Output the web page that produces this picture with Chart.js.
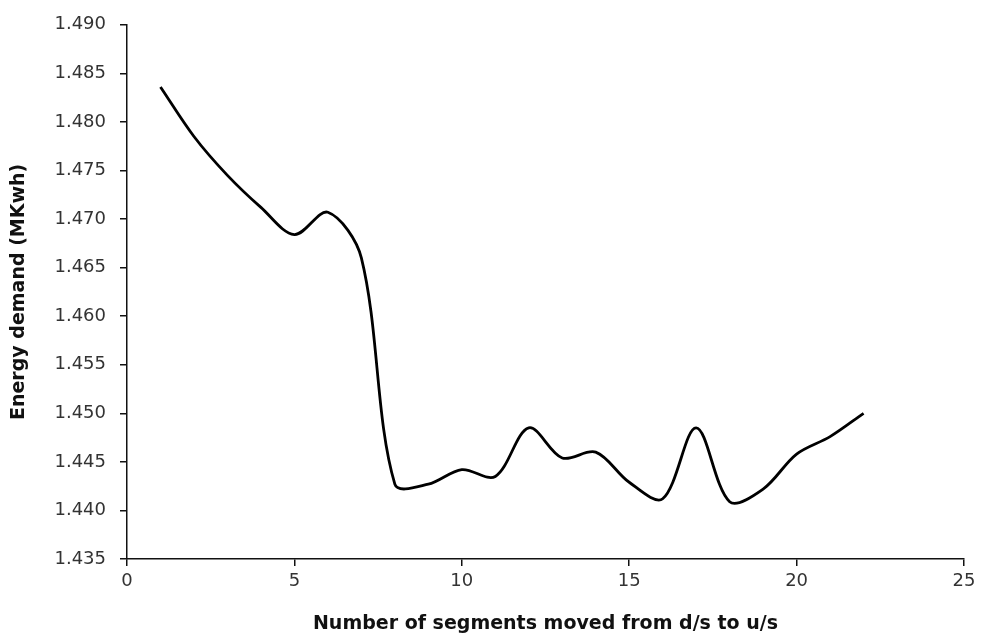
<!DOCTYPE html>
<html>
<head>
<meta charset="utf-8">
<script src="https://cdn.jsdelivr.net/npm/chart.js@4"></script>
<style>
  html, body { margin: 0; padding: 0; background: #fff; }
  #wrap { width: 982px; height: 644px; }
</style>
</head>
<body>
<div id="wrap"><canvas id="energyChart" width="982" height="644"></canvas></div>
<script>
// Segments moved and energy demand
const segments = [1, 2, 3, 4, 5, 6, 7, 8, 9, 10, 11, 12, 13, 14, 15, 16, 17, 18, 19, 20, 21, 22];
const energy = [1.4836, 1.4785, 1.4745, 1.4712, 1.4684, 1.4707, 1.4660, 1.4427, 1.4427, 1.4442, 1.4435,
  1.4485, 1.4454, 1.4460, 1.4429, 1.4412, 1.4485, 1.4409, 1.4422, 1.4458, 1.4476, 1.4500];
const xTicks = [0, 5, 10, 15, 20, 25];
const yMin = 1.435, yMax = 1.490, yStep = 0.005;

const points = segments.map((s, i) => ({ x: s, y: energy[i] }));
const tickFont = { family: 'DejaVu Sans', size: 18 };
const titleFont = { family: 'DejaVu Sans', size: 19, weight: 'bold' };
const axisGrid = { display: true, drawOnChartArea: false, drawTicks: true, tickLength: 7, color: '#111', lineWidth: 1.5 };

new Chart(document.getElementById('energyChart'), {
  type: 'line',
  data: {
    datasets: [{
      data: points,
      borderColor: '#000',
      borderWidth: 2.8,
      pointRadius: 0,
      tension: 0.33,
      fill: false
    }]
  },
  options: {
    responsive: false,
    animation: false,
    layout: { padding: { top: 23, right: 18, left: 0, bottom: 0 } },
    plugins: { legend: { display: false }, tooltip: { enabled: false } },
    scales: {
      x: {
        type: 'linear',
        min: 0, max: 25,
        afterBuildTicks: axis => { axis.ticks = xTicks.map(v => ({ value: v })); },
        afterFit: axis => { axis.height = 85; },
        border: { color: '#111', width: 1.5 },
        grid: axisGrid,
        ticks: { color: '#333', font: tickFont, padding: 5, maxRotation: 0 },
        title: { display: true, text: 'Number of segments moved from d/s to u/s', color: '#111', font: titleFont, padding: { top: 0, bottom: 9 } }
      },
      y: {
        min: yMin, max: yMax,
        afterFit: axis => { axis.width = 127; },
        border: { color: '#111', width: 1.5 },
        grid: axisGrid,
        ticks: {
          stepSize: yStep, color: '#333', font: tickFont, padding: 14,
          callback: v => v.toFixed(3)
        },
        title: { display: true, text: 'Energy demand (MKwh)', color: '#111', font: titleFont, padding: { top: 8, bottom: 0 } }
      }
    }
  }
});
</script>
</body>
</html>
